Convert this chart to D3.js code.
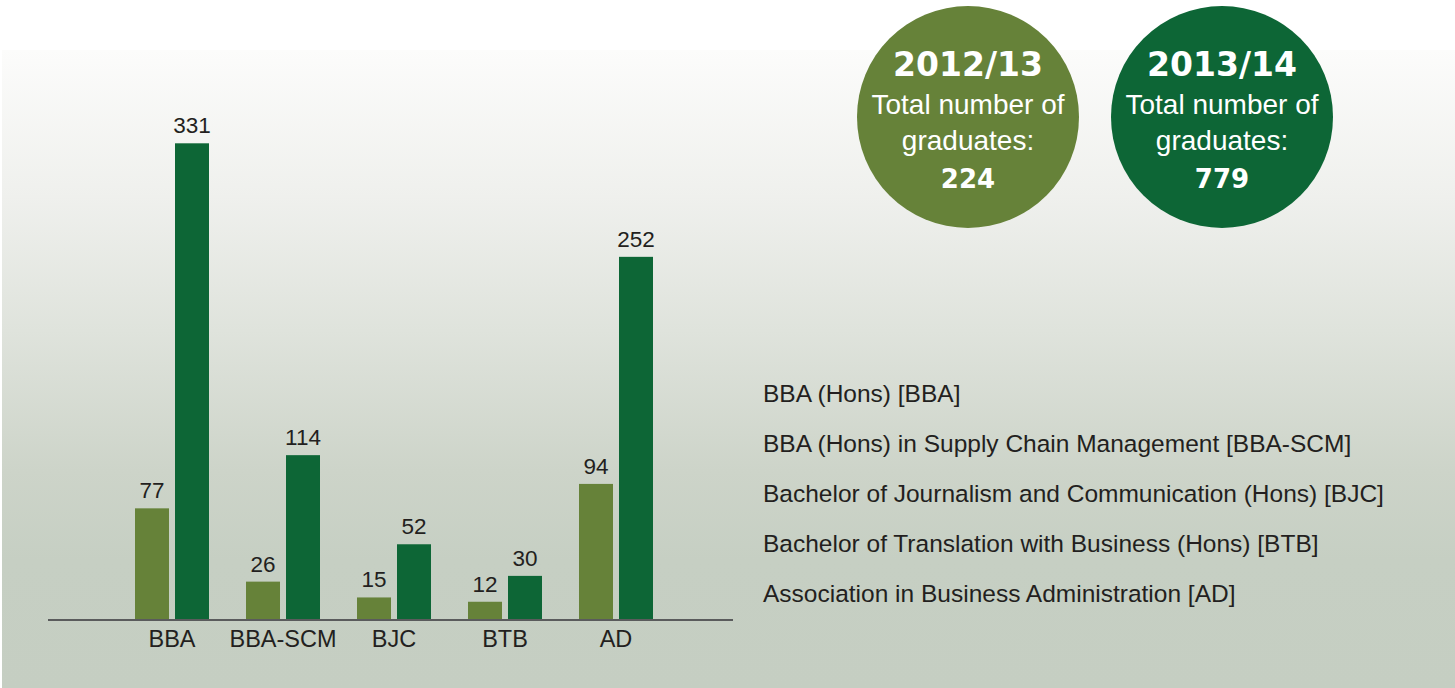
<!DOCTYPE html>
<html>
<head>
<meta charset="utf-8">
<script src="https://cdn.jsdelivr.net/npm/d3@7"></script>
<style>
  html, body { margin: 0; padding: 0; background: #fff; }
  svg { display: block; }
</style>
</head>
<body>
<svg id="chart"></svg>
<script>
// Data
const programmes = ["BBA", "BBA-SCM", "BJC", "BTB", "AD"];
const years = ["2012/13", "2013/14"];
const graduates2012 = [77, 26, 15, 12, 94];
const graduates2013 = [331, 114, 52, 30, 252];
const totals = [224, 779];
const legendLabels = [
    "BBA (Hons) [BBA]",
    "BBA (Hons) in Supply Chain Management [BBA-SCM]",
    "Bachelor of Journalism and Communication (Hons) [BJC]",
    "Bachelor of Translation with Business (Hons) [BTB]",
    "Association in Business Administration [AD]"
];

const W = 1455, H = 688;
const colors = ["#668239", "#0d6636"];
const textColor = "#231f20";
const font = "'Liberation Sans', Arial, Helvetica, sans-serif";
const boldFont = "'DejaVu Sans', 'Liberation Sans', sans-serif";

const svg = d3.select("#chart").attr("width", W).attr("height", H);

// Background gradient
const defs = svg.append("defs");
const grad = defs.append("linearGradient")
    .attr("id", "bg").attr("x1", 0).attr("x2", 0).attr("y1", 0).attr("y2", 1);
[[0, "#fcfcfb"], [0.23, "#eff0ed"], [0.44, "#dfe3dc"], [0.66, "#cdd4c9"], [0.8, "#c6cfc3"], [1, "#c5cec2"]]
    .forEach(([o, c]) => grad.append("stop").attr("offset", o).attr("stop-color", c));

svg.append("rect")
    .attr("x", 2).attr("y", 50)
    .attr("width", W - 2).attr("height", H - 50)
    .attr("fill", "url(#bg)");

// Scales
const axisY = 619;
const x0 = d3.scaleBand().domain(programmes).range([116.5, 671.5]).padding(0);
const x1 = d3.scaleBand().domain(years).range([-37, 37]).paddingInner(0.15);
const y = d3.scaleLinear().domain([0, 350]).range([axisY, 116]);

const rows = programmes.map((p, i) => ({
    programme: p,
    values: [graduates2012[i], graduates2013[i]]
}));

const groups = svg.selectAll(".group")
    .data(rows)
    .enter().append("g")
    .attr("class", "group")
    .attr("transform", d => `translate(${x0(d.programme) + x0.bandwidth() / 2},0)`);

const cells = groups.selectAll(".cell")
    .data(d => d.values.map((v, j) => ({ year: years[j], value: v, j })))
    .enter();

cells.append("rect")
    .attr("x", d => x1(d.year))
    .attr("y", d => y(d.value))
    .attr("width", x1.bandwidth())
    .attr("height", d => axisY - y(d.value))
    .attr("fill", d => colors[d.j]);

cells.append("text")
    .attr("x", d => x1(d.year) + x1.bandwidth() / 2)
    .attr("y", d => y(d.value) - 10)
    .attr("text-anchor", "middle")
    .style("font-family", font)
    .style("font-size", "22.5px")
    .style("fill", textColor)
    .text(d => d.value);

// Axis
const axis = svg.append("g")
    .attr("transform", `translate(0,${axisY})`)
    .call(d3.axisBottom(x0).tickSize(0).tickPadding(10));
axis.select(".domain").remove();
axis.selectAll("text")
    .attr("y", 28).attr("dy", 0)
    .style("font-family", font)
    .style("font-size", "23.5px")
    .style("fill", textColor);

svg.append("line")
    .attr("x1", 48).attr("x2", 733)
    .attr("y1", axisY + 1).attr("y2", axisY + 1)
    .attr("stroke", "#5a5b5c").attr("stroke-width", 2);

// Legend
svg.selectAll(".legend")
    .data(legendLabels)
    .enter().append("text")
    .attr("class", "legend")
    .attr("x", 763)
    .attr("y", (d, i) => 402 + i * 50)
    .style("font-family", font)
    .style("font-size", "24.5px")
    .style("fill", textColor)
    .text(d => d);

// Total circles
const badges = svg.selectAll(".badge")
    .data(years.map((yr, i) => ({ year: yr, total: totals[i], cx: 968 + i * 254, color: colors[i] })))
    .enter().append("g")
    .attr("class", "badge")
    .attr("transform", d => `translate(${d.cx},117)`);

badges.append("circle").attr("r", 111).attr("fill", d => d.color);

badges.append("text")
    .attr("y", -41)
    .attr("text-anchor", "middle")
    .style("font-family", boldFont).style("font-weight", "bold")
    .style("font-size", "33px").style("fill", "#fff")
    .text(d => d.year);

badges.append("text")
    .attr("y", -3)
    .attr("text-anchor", "middle")
    .style("font-family", font)
    .style("font-size", "28px").style("fill", "#fff")
    .text("Total number of");

badges.append("text")
    .attr("y", 33)
    .attr("text-anchor", "middle")
    .style("font-family", font)
    .style("font-size", "28px").style("fill", "#fff")
    .text("graduates:");

badges.append("text")
    .attr("y", 71)
    .attr("text-anchor", "middle")
    .style("font-family", boldFont).style("font-weight", "bold")
    .style("font-size", "26px").style("fill", "#fff")
    .text(d => d.total);
</script>
</body>
</html>
